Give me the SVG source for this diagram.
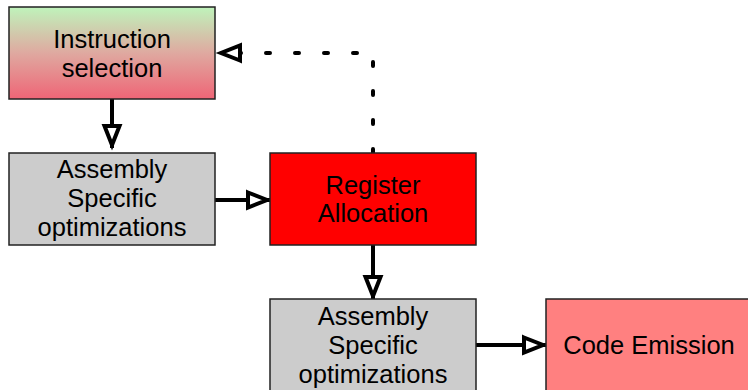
<svg xmlns="http://www.w3.org/2000/svg" width="748" height="390" viewBox="0 0 748 390">
<style>
.box{stroke:#222;stroke-width:1.5}
.lbl{font-family:"Liberation Sans",Arial,Helvetica,sans-serif;font-size:25.5px;fill:#000;text-anchor:middle}
.conn{fill:none;stroke:#000;stroke-width:4}
.dash{stroke-dasharray:4 25;stroke-linecap:round}
</style>
<defs>
<linearGradient id="g1" x1="0" y1="0" x2="0" y2="1">
<stop offset="0" stop-color="#bff3bb"/>
<stop offset="0.5" stop-color="#dfa9a0"/>
<stop offset="1" stop-color="#ef6576"/>
</linearGradient>
<marker id="arr" viewBox="-4 -12 34 24" refX="22" refY="0" markerWidth="34" markerHeight="24" markerUnits="userSpaceOnUse" orient="auto">
<path d="M0,-7.5 L19,0 L0,7.5 Z" fill="#fff" stroke="#000" stroke-width="4" stroke-dasharray="none"/>
</marker>
</defs>
<g id="connectors">
<path class="conn" d="M112,99 V148" marker-end="url(#arr)"/>
<path class="conn" d="M215,200 H270" marker-end="url(#arr)"/>
<path class="conn" d="M373,245 V299" marker-end="url(#arr)"/>
<path class="conn" d="M476,345 H546" marker-end="url(#arr)"/>
<path class="conn dash" d="M373,153 V53 H218" marker-end="url(#arr)"/>
</g>
<g id="instruction-selection">
<rect class="box" x="9" y="7" width="206" height="92" fill="url(#g1)"/>
<text class="lbl" x="112" y="48">Instruction</text>
<text class="lbl" x="112" y="77">selection</text>
</g>
<g id="assembly-specific-1">
<rect class="box" x="9" y="153" width="206" height="92" fill="#cccccc"/>
<text class="lbl" x="112" y="178">Assembly</text>
<text class="lbl" x="112" y="207">Specific</text>
<text class="lbl" x="112" y="236">optimizations</text>
</g>
<g id="register-allocation">
<rect class="box" x="270" y="153" width="206" height="92" fill="#ff0000"/>
<text class="lbl" x="373" y="194">Register</text>
<text class="lbl" x="373" y="222">Allocation</text>
</g>
<g id="assembly-specific-2">
<rect class="box" x="270" y="299" width="206" height="100" fill="#cccccc"/>
<text class="lbl" x="373" y="325">Assembly</text>
<text class="lbl" x="373" y="354">Specific</text>
<text class="lbl" x="373" y="383">optimizations</text>
</g>
<g id="code-emission">
<rect class="box" x="546" y="299" width="210" height="100" fill="#ff8080"/>
<text class="lbl" x="649" y="354">Code Emission</text>
</g>
</svg>
